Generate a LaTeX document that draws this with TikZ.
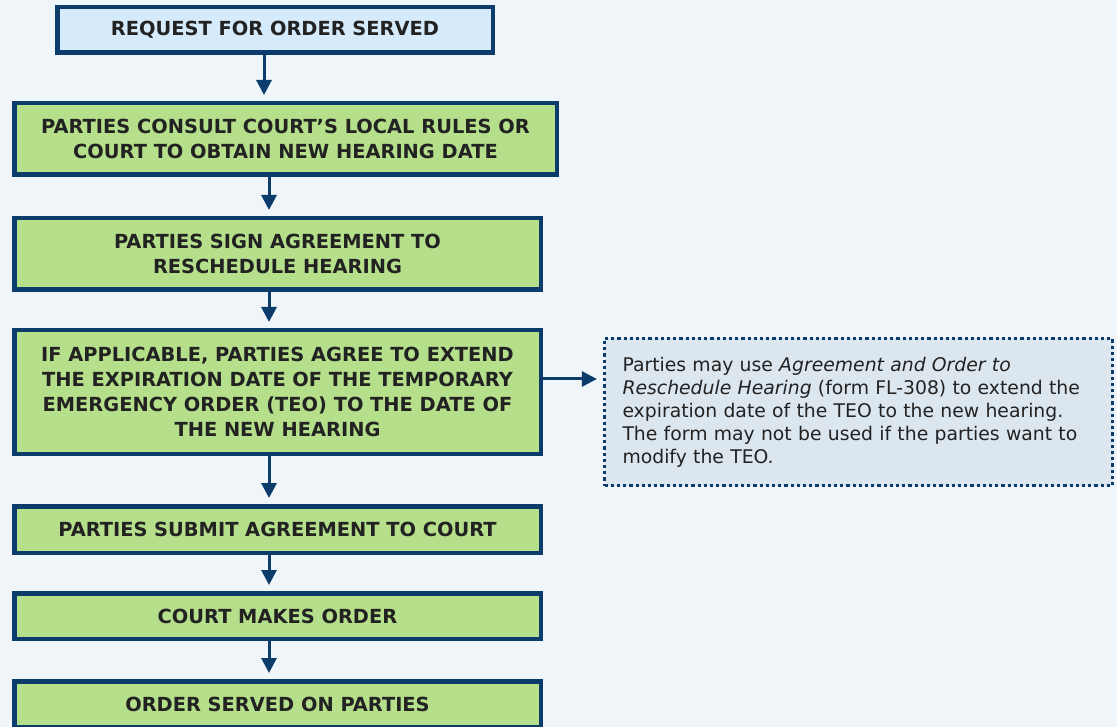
\documentclass[tikz,border=0pt]{standalone}
\usepackage{fontspec}
\setmainfont{DejaVu Sans}
\usetikzlibrary{positioning, arrows.meta}
\definecolor{navyline}{HTML}{0C3C6C}
\definecolor{greenfill}{HTML}{B5DF8A}
\definecolor{bluefill}{HTML}{D5EBFB}
\definecolor{notefill}{HTML}{DCE6EE}
\definecolor{pagebg}{HTML}{F0F5F9}
\definecolor{inktext}{HTML}{222222}

\begin{document}
\begin{tikzpicture}[x=1pt, y=-1pt]
        \tikzstyle{stepbox}=[draw=navyline, line width=4.5pt, fill=greenfill, text=inktext,
            minimum width=526.5pt, minimum height=45.5pt, align=center, inner xsep=2pt,
            font=\fontsize{19.4}{25}\selectfont\bfseries]
        \tikzstyle{flow}=[navyline, line width=3pt, shorten >=6pt, -{Triangle[width=15pt,length=15pt]}]

        % Page background
        \fill[pagebg] (0,0) rectangle (1117,727);
        \useasboundingbox (0,0) rectangle (1117,727);

        % Steps
        \node[stepbox, fill=bluefill, minimum width=435.5pt] (served) at (275,30) {REQUEST FOR ORDER SERVED};
        \node[stepbox, minimum width=542.5pt, minimum height=71.5pt] (consult) at (285.5,139)
            {PARTIES CONSULT COURT'S LOCAL RULES OR\\COURT TO OBTAIN NEW HEARING DATE};
        \node[stepbox, minimum height=71.5pt] (sign) at (277.5,254)
            {PARTIES SIGN AGREEMENT TO\\RESCHEDULE HEARING};
        \node[stepbox, minimum height=123.5pt] (extend) at (277.5,392)
            {IF APPLICABLE, PARTIES AGREE TO EXTEND\\THE EXPIRATION DATE OF THE TEMPORARY\\EMERGENCY ORDER (TEO) TO THE DATE OF\\THE NEW HEARING};
        \node[stepbox, minimum height=46.5pt] (submit) at (277.5,529.5) {PARTIES SUBMIT AGREEMENT TO COURT};
        \node[stepbox] (makes) at (277.5,616) {COURT MAKES ORDER};
        \node[stepbox] (onparties) at (277.5,704) {ORDER SERVED ON PARTIES};

        % Side note
        \node[draw=navyline, line width=3.2pt, dash pattern=on 3.2pt off 3pt, fill=notefill,
            text=inktext, minimum width=508pt, minimum height=147pt, text width=472pt,
            align=left, font=\fontsize{18.8}{23}\selectfont] (note) at (858.5,412)
            {Parties may use \textit{Agreement and Order to}\\\textit{Reschedule Hearing} (form FL-308) to extend the\\expiration date of the TEO to the new hearing.\\The form may not be used if the parties want to\\modify the TEO.};

        % Connectors
        \draw[flow] ([xshift=-11pt]served.south) -- ([xshift=-11pt]served.south |- consult.north);
        \draw[flow] ([xshift=-8.5pt]sign.north |- consult.south) -- ([xshift=-8.5pt]sign.north);
        \draw[flow] ([xshift=-8.5pt]sign.south) -- ([xshift=-8.5pt]extend.north);
        \draw[flow] ([xshift=-8.5pt]extend.south) -- ([xshift=-8.5pt]submit.north);
        \draw[flow] ([xshift=-8.5pt]submit.south) -- ([xshift=-8.5pt]makes.north);
        \draw[flow] ([xshift=-8.5pt]makes.south) -- ([xshift=-8.5pt]onparties.north);
        \draw[flow] ([yshift=13pt]extend.east) -- ([yshift=13pt]extend.east -| note.west);
\end{tikzpicture}
\end{document}
